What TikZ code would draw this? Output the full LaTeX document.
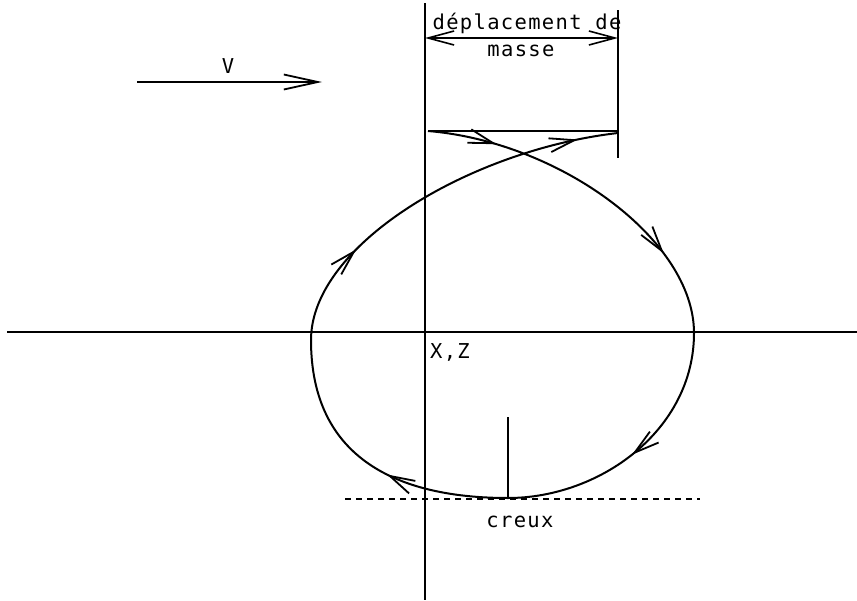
\documentclass[tikz,border=0pt]{standalone}
\usepackage{fontspec}
\newfontfamily\plotfont[LetterSpace=6.5]{DejaVu Sans Mono}
\usetikzlibrary{arrows.meta,decorations.markings}
\begin{document}
\begin{tikzpicture}[x=1pt,y=-1pt,
  axis/.style={line width=1.6pt},
  lbl/.style={font=\plotfont\fontsize{20.5}{22}\selectfont, inner sep=0pt},
  barb/.style={-{Straight Barb[length=34pt,width=15pt,line width=1.8pt]}},
  dimline/.style={line width=1.6pt,{Straight Barb[length=26pt,width=14pt]}-{Straight Barb[length=26pt,width=14pt]}},
  cbarb/.tip={Straight Barb[length=25pt,width=14pt,line width=1.8pt]},
  trajectory/.style={line width=2pt,
    postaction={decorate,decoration={markings,
      mark=at position 0.053 with {\arrow{cbarb}},
      mark=at position 0.207 with {\arrow{cbarb}},
      mark=at position 0.380 with {\arrow{cbarb}},
      mark=at position 0.576 with {\arrow{cbarb}},
      mark=at position 0.779 with {\arrow{cbarb}},
      mark=at position 0.969 with {\arrow{cbarb}}}}}
]
\useasboundingbox (0,0) rectangle (857,600);
% axes and guide lines
\coordinate (vtop) at (425,3);
\coordinate (vbot) at (425,600);
\coordinate (hl) at (7,332);
\coordinate (hr) at (857,332);
\draw[axis] (vtop) -- (vbot);
\draw[axis] (hl) -- (hr);
\coordinate (rtop) at (618,10);
\coordinate (rbot) at (618,158);
\draw[axis] (rtop) -- (rbot);
% dimension
\coordinate (dl) at (425,38);
\coordinate (dr) at (618,38);
\draw[dimline] (dl) -- (dr);
\node[lbl] (dep) at (527,23) {déplacement de};
\node[lbl] (mas) at (521,51) {masse};
% top horizontal
\coordinate (tl) at (428,131);
\coordinate (tr) at (618,131);
\draw[axis] (tl) -- (tr);
% velocity
\coordinate (va) at (137,82);
\coordinate (vb) at (322,82);
\draw[axis,barb] (va) -- (vb);
\node[lbl] (V) at (228,66) {V};
% trough
\coordinate (ca) at (345,499);
\coordinate (cb) at (700,499);
\draw[line width=1.3pt,dash pattern=on 6pt off 5pt] (ca) -- (cb);
\coordinate (sa) at (508,417);
\coordinate (sb) at (508,498);
\draw[line width=1.3pt] (sa) -- (sb);
\node[lbl] (creux) at (520,522) {creux};
\node[lbl] (xz) at (450,352) {X,Z};
% trajectory
\coordinate (p0) at (428,131);
\coordinate (p1) at (694,333);
\coordinate (p2) at (508,498);
\coordinate (p3) at (311,340);
\coordinate (p4) at (618,133);
\draw[trajectory] (p0) .. controls (560,142) and (694,240) .. (p1)
  .. controls (694,430) and (600,498) .. (p2)
  .. controls (400,498) and (311,460) .. (p3)
  .. controls (311,245) and (470,150) .. (p4);
\end{tikzpicture}
\end{document}
